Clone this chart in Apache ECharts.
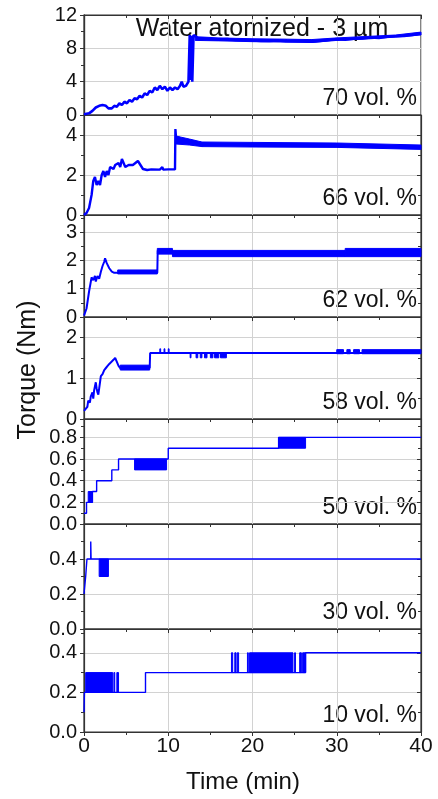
<!DOCTYPE html>
<html>
<head>
<meta charset="utf-8">
<script src="https://cdn.jsdelivr.net/npm/echarts@6/dist/echarts.min.js"></script>
<style>
    html, body { margin: 0; padding: 0; background: #fff; }
    #chart { width: 438px; height: 799px; }
</style>
</head>
<body>
<div id="chart"></div>
<script>
(function () {
    'use strict';

    // one panel per powder loading, top to bottom
    var panelLabels = ['70 vol. %', '66 vol. %', '62 vol. %', '58 vol. %', '50 vol. %', '30 vol. %', '10 vol. %'];
    var yMax = [12, 5, 3.6, 2.5, 0.97, 0.6, 0.52];
    var yStep = [4, 2, 1, 1, 0.2, 0.2, 0.2];
    var timeMax = 40;
    var timeStep = 10;

    // [time (min), torque (Nm)]
    var torque70 = [
        [0, 0.1], [0.6, 0.2], [1.0, 0.5], [1.4, 0.9], [1.8, 1.1], [2.2, 1.2], [2.6, 1.1], [2.9, 0.8],
        [3.1, 1.0], [3.3, 0.8], [3.6, 1.1], [3.9, 1.0], [4.2, 1.4], [4.5, 1.2], [4.8, 1.6], [5.1, 1.4],
        [5.4, 1.8], [5.7, 1.6], [6.0, 2.0], [6.3, 1.9], [6.6, 2.3], [6.9, 2.1], [7.2, 2.6], [7.5, 2.4],
        [7.8, 2.9], [8.1, 2.7], [8.4, 3.3], [8.7, 3.0], [9.0, 3.5], [9.3, 3.1], [9.6, 3.4], [9.9, 2.9],
        [10.2, 3.3], [10.5, 3.0], [10.8, 3.3], [11.1, 3.1], [11.4, 3.5], [11.6, 4.0], [11.8, 3.4], [12.1, 3.5],
        [12.4, 4.0], [12.5, 3.8], [12.55, 9.6], [12.65, 4.2], [12.75, 9.5], [12.85, 4.0], [12.95, 3.8], [13.0, 9.6],
        [13.3, 9.4], [13.6, 9.1], [14, 9.2], [15, 9.1], [16, 9.05], [17, 9.1], [18, 9.0], [19, 9.0],
        [20, 8.95], [21, 8.9], [22, 8.9], [23, 8.95], [24, 8.85], [25, 8.9], [26, 8.85], [27, 8.8],
        [28, 8.9], [29, 9.0], [30, 9.1], [31, 9.05], [32, 9.15], [33, 9.2], [34, 9.3], [35, 9.25],
        [36, 9.4], [37, 9.45], [38, 9.5], [39, 9.6], [40, 9.8]
    ];
    var torque66 = [
        [0, 0], [0.3, 0.1], [0.6, 0.35], [0.9, 1.0], [1.1, 1.7], [1.3, 1.9], [1.5, 1.5], [1.7, 1.7],
        [1.9, 1.5], [2.1, 2.0], [2.3, 2.2], [2.5, 1.9], [2.7, 2.2], [2.9, 2.0], [3.1, 2.4], [3.3, 2.5],
        [3.5, 2.3], [3.7, 2.5], [3.9, 2.4], [4.1, 2.6], [4.3, 2.4], [4.5, 2.8], [4.7, 2.6], [4.9, 2.4],
        [5.1, 2.3], [5.3, 2.5], [5.5, 2.4], [5.8, 2.5], [6.1, 2.6], [6.4, 2.7], [6.7, 2.5], [7.0, 2.3],
        [7.5, 2.25], [8, 2.28], [9, 2.27], [9.3, 2.4], [9.4, 2.27], [10, 2.28], [10.8, 2.28], [10.85, 4.3],
        [10.95, 3.7], [11.2, 3.9], [11.5, 3.6], [11.8, 3.8], [12.1, 3.6], [12.4, 3.75], [12.7, 3.55], [13, 3.7],
        [13.4, 3.5], [13.8, 3.6], [15, 3.5], [20, 3.52], [25, 3.48], [30, 3.5], [35, 3.45], [40, 3.38]
    ];
    var torque62 = [
        [0, 0.05], [0.3, 0.3], [0.6, 0.9], [0.9, 1.4], [1.1, 1.3], [1.3, 1.45], [1.4, 1.25], [1.6, 1.45],
        [1.8, 1.35], [2.0, 1.6], [2.2, 1.8], [2.4, 1.95], [2.5, 2.07], [2.7, 1.9], [3.0, 1.72], [3.3, 1.6],
        [3.6, 1.56], [8.7, 1.56], [8.75, 2.35], [10, 2.3], [10.5, 2.25], [40, 2.25]
    ];
    var torque58 = [
        [0, 0.2], [0.2, 0.25], [0.4, 0.3], [0.5, 0.45], [0.7, 0.4], [0.8, 0.55], [1.0, 0.65], [1.1, 0.5],
        [1.2, 0.7], [1.4, 0.9], [1.5, 0.75], [1.6, 0.65], [1.7, 0.6], [1.9, 0.9], [2.0, 1.05], [2.2, 1.1],
        [2.4, 1.2], [2.6, 1.25], [2.8, 1.3], [3.0, 1.35], [3.2, 1.32], [3.5, 1.45], [3.7, 1.5], [3.9, 1.4],
        [4.1, 1.3], [4.3, 1.25], [7.8, 1.25], [7.85, 1.62], [40, 1.62]
    ];
    // step traces: value holds until the next time
    var torque50 = [[0, 0.1], [0.3, 0.2], [1.0, 0.3], [1.5, 0.4], [3.3, 0.5], [4.1, 0.6], [10.0, 0.7], [23.1, 0.8], [40, 0.8]];
    var torque30 = [[0, 0.2], [0.2, 0.3], [0.35, 0.4], [0.8, 0.5], [0.84, 0.4], [40, 0.4]];
    var torque10 = [[0, 0.1], [0.05, 0.2], [7.3, 0.3], [26.3, 0.4], [40, 0.4]];

    // noise bands: each band is a list of [time, low, high]
    var bands70 = [
        [[13.2, 8.95, 9.4], [16, 8.9, 9.25], [20, 8.8, 9.15], [24, 8.75, 9.1], [27, 8.7, 9.05],
         [30, 8.95, 9.25], [34, 9.15, 9.45], [37, 9.35, 9.6], [40, 9.6, 9.95]]
    ];
    var bands66 = [
        [[10.9, 3.55, 3.95], [12.5, 3.5, 3.8], [14, 3.42, 3.65], [20, 3.4, 3.63], [30, 3.38, 3.6], [40, 3.28, 3.5]]
    ];
    var bands62 = [
        [[4.0, 1.52, 1.66], [8.7, 1.52, 1.66]],
        [[8.7, 2.22, 2.42], [10.5, 2.22, 2.42]],
        [[10.5, 2.13, 2.35], [31, 2.13, 2.35]],
        [[31, 2.13, 2.42], [40, 2.13, 2.42]]
    ];
    var bands58 = [
        [[4.3, 1.2, 1.32], [7.8, 1.2, 1.32]],
        [[9.0, 1.62, 1.72], [9.1, 1.62, 1.72]],
        [[9.5, 1.62, 1.72], [9.6, 1.62, 1.72]],
        [[10.0, 1.62, 1.72], [10.1, 1.62, 1.72]],
        [[12.6, 1.5, 1.62], [12.7, 1.5, 1.62]],
        [[13.3, 1.5, 1.62], [13.5, 1.5, 1.62]],
        [[13.8, 1.5, 1.62], [14.0, 1.5, 1.62]],
        [[14.3, 1.5, 1.62], [14.6, 1.5, 1.62]],
        [[15.0, 1.5, 1.62], [15.3, 1.5, 1.62]],
        [[15.5, 1.5, 1.62], [16.0, 1.5, 1.62]],
        [[16.2, 1.5, 1.62], [16.9, 1.5, 1.62]],
        [[30.0, 1.6, 1.7], [30.8, 1.6, 1.7]],
        [[31.2, 1.6, 1.7], [31.6, 1.6, 1.7]],
        [[32.0, 1.6, 1.7], [32.7, 1.6, 1.7]],
        [[33.0, 1.6, 1.7], [40, 1.6, 1.7]]
    ];
    var bands50 = [
        [[0.5, 0.2, 0.3], [1.0, 0.2, 0.3]],
        [[6.0, 0.5, 0.6], [9.8, 0.5, 0.6]],
        [[23.1, 0.7, 0.8], [26.3, 0.7, 0.8]]
    ];
    var bands30 = [
        [[1.8, 0.3, 0.4], [2.9, 0.3, 0.4]]
    ];
    var bands10 = [
        [[0.2, 0.2, 0.3], [3.4, 0.2, 0.3]],
        [[3.55, 0.2, 0.3], [3.65, 0.2, 0.3]],
        [[3.9, 0.2, 0.3], [4.1, 0.2, 0.3]],
        [[17.5, 0.3, 0.4], [17.65, 0.3, 0.4]],
        [[17.9, 0.3, 0.4], [18.05, 0.3, 0.4]],
        [[18.2, 0.3, 0.4], [18.35, 0.3, 0.4]],
        [[19.4, 0.3, 0.4], [19.5, 0.3, 0.4]],
        [[19.65, 0.3, 0.4], [24.8, 0.3, 0.4]],
        [[25.0, 0.3, 0.4], [25.1, 0.3, 0.4]],
        [[25.6, 0.3, 0.4], [25.8, 0.3, 0.4]],
        [[25.95, 0.3, 0.4], [26.3, 0.3, 0.4]]
    ];

    var traces = [torque70, torque66, torque62, torque58, torque50, torque30, torque10];
    var bands = [bands70, bands66, bands62, bands58, bands50, bands30, bands10];

    var BLUE = '#0000ff';
    var INK = '#111';
    var FONT = '"Liberation Sans", Arial, sans-serif';
    var gridTop = [15, 115, 215, 317, 419, 524, 629];
    var gridHeight = [100, 100, 102, 102, 105, 105, 103];
    var lineWidth = [2.6, 2.4, 2, 2, 1.4, 1.4, 1.4];
    var last = panelLabels.length - 1;

    function toSegments(list) {
        var out = [];
        list.forEach(function (band) {
            for (var j = 0; j < band.length - 1; j++) {
                var a = band[j], b = band[j + 1];
                out.push([a[0], a[1], a[2], b[0], b[1], b[2]]);
            }
        });
        return out;
    }

    function renderBand(params, api) {
        var p1 = api.coord([api.value(0), api.value(2)]);
        var p2 = api.coord([api.value(3), api.value(5)]);
        var p3 = api.coord([api.value(3), api.value(4)]);
        var p4 = api.coord([api.value(0), api.value(1)]);
        return {
            type: 'polygon',
            shape: { points: [p1, p2, p3, p4] },
            style: { fill: BLUE, stroke: BLUE, lineWidth: 1 }
        };
    }

    var grids = [], xAxes = [], yAxes = [], series = [], graphics = [];

    panelLabels.forEach(function (label, i) {
        var small = yStep[i] < 1;
        grids.push({
            left: 84, right: 17, top: gridTop[i], height: gridHeight[i],
            show: true, borderColor: '#333', borderWidth: 1.2,
            outerBoundsMode: 'none'
        });
        xAxes.push({
            type: 'value', gridIndex: i, position: 'bottom',
            min: 0, max: timeMax, interval: timeStep,
            axisLine: { onZero: false, lineStyle: { color: '#333', width: 1.2 } },
            axisTick: { inside: false, length: 4, lineStyle: { color: '#333' } },
            minorTick: { show: true, splitNumber: 2, length: 3, lineStyle: { color: '#333' } },
            splitLine: { show: true, lineStyle: { color: '#d2d2d2', width: 1 } },
            axisLabel: { show: i === last, fontFamily: FONT, fontSize: 21, color: INK, margin: 4 }
        });
        yAxes.push({
            type: 'value', gridIndex: i, position: 'left',
            min: 0, max: yMax[i], interval: yStep[i],
            axisLine: { show: true, lineStyle: { color: '#333', width: 1.2 } },
            axisTick: { show: true, inside: false, length: 4, lineStyle: { color: '#333' } },
            minorTick: { show: true, splitNumber: 2, length: 3, lineStyle: { color: '#333' } },
            splitLine: { show: true, lineStyle: { color: '#d2d2d2', width: 1 } },
            axisLabel: {
                fontFamily: FONT, fontSize: 20, color: INK, margin: 7,
                showMaxLabel: i === 0, showMinLabel: true,
                formatter: function (v) { return small ? v.toFixed(1) : String(v); }
            }
        });
        yAxes.push({
            type: 'value', gridIndex: i, position: 'right',
            min: 0, max: yMax[i], interval: yStep[i],
            axisLine: { show: true, lineStyle: { color: '#333', width: 1.2 } },
            axisTick: { show: true, inside: true, length: 4, lineStyle: { color: '#333' } },
            minorTick: { show: true, splitNumber: 2, length: 3, lineStyle: { color: '#333' } },
            splitLine: { show: false },
            axisLabel: { show: false }
        });

        series.push({
            type: 'custom', xAxisIndex: i, yAxisIndex: 2 * i,
            renderItem: renderBand,
            dimensions: ['t0', 'lo0', 'hi0', 't1', 'lo1', 'hi1'],
            encode: { x: [0, 3], y: [1, 2, 4, 5] },
            data: toSegments(bands[i]),
            silent: true, z: 3
        });
        series.push({
            type: 'line', xAxisIndex: i, yAxisIndex: 2 * i,
            data: traces[i],
            step: i >= 4 ? 'end' : false,
            showSymbol: false, symbol: 'none',
            lineStyle: { color: BLUE, width: lineWidth[i] },
            silent: true, z: 4
        });

        graphics.push({
            type: 'text', right: 21, top: gridTop[i] + gridHeight[i] - 28,
            style: { text: label, font: '23px ' + FONT, fill: INK }
        });
    });

    // inward ticks along the top edge of the first panel
    xAxes.push({
        type: 'value', gridIndex: 0, position: 'top',
        min: 0, max: timeMax, interval: timeStep,
        axisLine: { onZero: false, lineStyle: { color: '#333', width: 1.2 } },
        axisTick: { inside: true, length: 4, lineStyle: { color: '#333' } },
        minorTick: { show: true, splitNumber: 2, length: 3, lineStyle: { color: '#333' } },
        splitLine: { show: false },
        axisLabel: { show: false }
    });

    graphics.push({
        type: 'text', x: 262, y: 29,
        style: { text: 'Water atomized - 3 \u00b5m', font: '25px ' + FONT, fill: INK, align: 'center', verticalAlign: 'middle' }
    });
    graphics.push({
        type: 'text', x: 243, y: 782,
        style: { text: 'Time (min)', font: '24px ' + FONT, fill: INK, align: 'center', verticalAlign: 'middle' }
    });
    graphics.push({
        type: 'text', x: 28, y: 370, rotation: Math.PI / 2,
        style: { text: 'Torque (Nm)', font: '25px ' + FONT, fill: INK, align: 'center', verticalAlign: 'middle' }
    });

    var myChart = echarts.init(document.getElementById('chart'), null, { renderer: 'canvas' });
    myChart.setOption({
        animation: false,
        backgroundColor: '#fff',
        grid: grids,
        xAxis: xAxes,
        yAxis: yAxes,
        series: series,
        graphic: graphics
    });
})();
</script>
</body>
</html>
